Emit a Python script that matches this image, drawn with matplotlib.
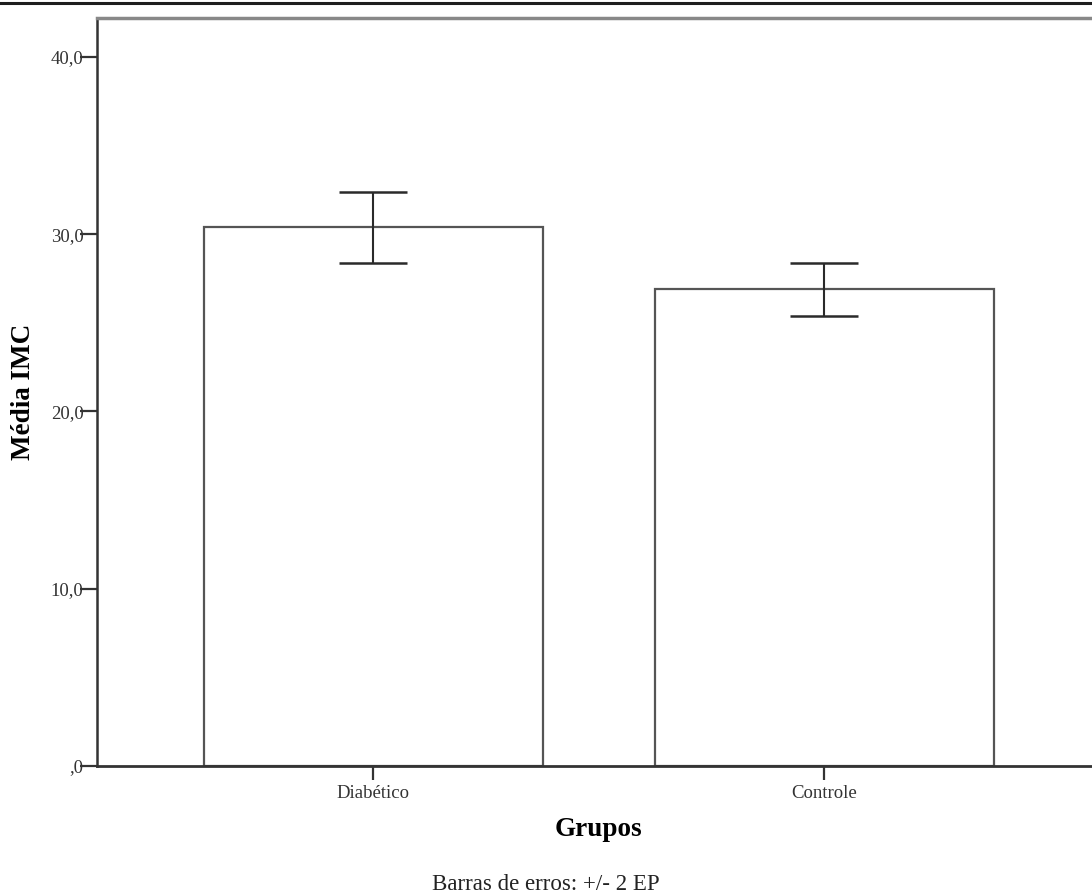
import numpy as np
import matplotlib.pyplot as plt
from matplotlib.lines import Line2D
from matplotlib.ticker import FuncFormatter

plt.rcParams['font.family'] = 'serif'
plt.rcParams['font.serif'] = ['Liberation Serif', 'DejaVu Serif']

# Média do IMC por grupo, com +/- 2 erros-padrão
grupos = ['Diabético', 'Controle']
media_imc = [30.4, 26.9]
erro_2ep = [2.0, 1.5]
yticks = [0, 10, 20, 30, 40]

fig = plt.figure(figsize=(10.92, 8.94), dpi=100)
ax = fig.add_axes([0.0888, 0.1432, 1.008 - 0.0888, 0.9799 - 0.1432])

x = np.arange(len(grupos))
ax.bar(x, media_imc, width=0.752, color='white', edgecolor='#555555',
       linewidth=1.6, zorder=2)
ax.errorbar(x, media_imc, yerr=erro_2ep, fmt='none', ecolor='#2a2a2a',
            elinewidth=1.5, capsize=24.5, capthick=1.8, zorder=3)

ax.set_xlim(-0.613, 1.613)
ax.set_ylim(0, 42.2)
ax.set_xticks(x)
ax.set_xticklabels(grupos)
ax.set_yticks(yticks)


def fmt_virgula(v, pos):
    s = f'{v:.1f}'.replace('.', ',')
    return s[1:] if s.startswith('0') else s


ax.yaxis.set_major_formatter(FuncFormatter(fmt_virgula))
ax.tick_params(axis='y', direction='out', length=12, width=1.6,
               color='#333333', labelsize=13.5, labelcolor='#333333', pad=-2.3)
ax.tick_params(axis='x', direction='out', length=10, width=1.6,
               color='#333333', labelsize=13.5, labelcolor='#333333', pad=4)

ax.spines['left'].set_color('#333333')
ax.spines['left'].set_linewidth(1.8)
ax.spines['bottom'].set_color('#333333')
ax.spines['bottom'].set_linewidth(2.0)
ax.spines['top'].set_color('#888888')
ax.spines['top'].set_linewidth(2.5)
ax.spines['right'].set_visible(False)

ax.set_ylabel('Média IMC', fontsize=19.5, fontweight='bold', va='center')
ax.yaxis.set_label_coords(-0.0727, 0.5)
ax.set_xlabel('Grupos', fontsize=19.5, fontweight='bold', va='baseline')
ax.xaxis.set_label_coords(0.5, -0.0936)

fig.text(0.5, 0.0048, 'Barras de erros: +/- 2 EP', ha='center', va='baseline',
         fontsize=16.5, color='#222222')

# filete no topo da página
fig.add_artist(Line2D([0, 1], [0.9966, 0.9966], transform=fig.transFigure,
                      color='#1e1e1e', linewidth=2.2))

fig.savefig('out.png', dpi=100)
